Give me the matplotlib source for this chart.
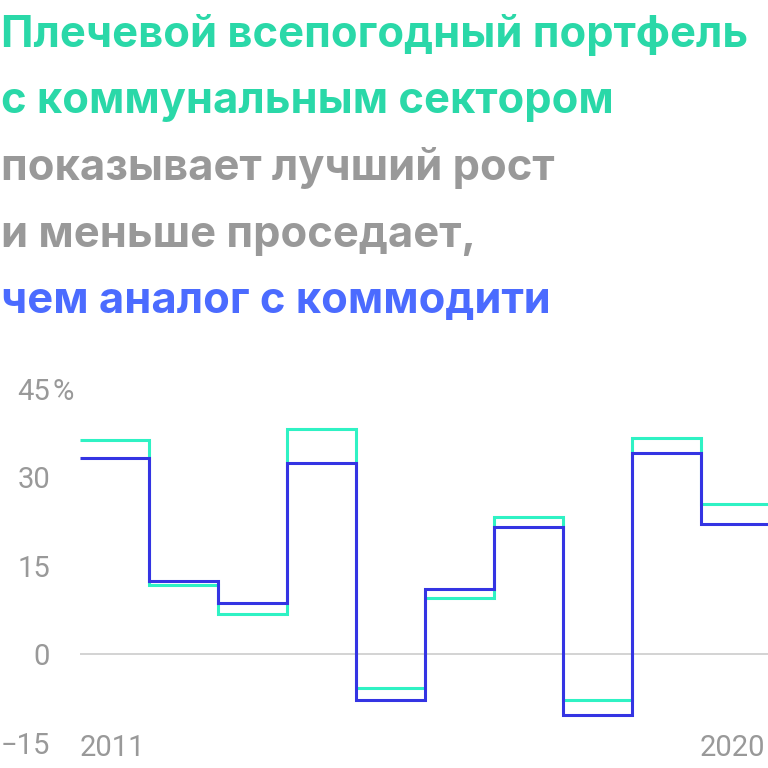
import matplotlib
matplotlib.use('Agg')
import matplotlib.pyplot as plt
import matplotlib.transforms as mtransforms

W = 768
DPI = 100

years = [2011, 2012, 2013, 2014, 2015, 2016, 2017, 2018, 2019, 2020]
# плечевой портфель с коммунальным сектором
utilities = [36.3, 11.7, 6.8, 38.1, -5.8, 9.5, 23.3, -7.7, 36.6, 25.5]
# аналог с коммодити
commodities = [33.3, 12.4, 8.6, 32.4, -7.8, 11.1, 21.6, -10.3, 34.1, 22.0]
y_ticks = [-15, 0, 15, 30, 45]

title_lines = [
    ('Плечевой всепогодный портфель', '#2ad8a8'),
    ('с коммунальным сектором', '#2ad8a8'),
    ('показывает лучший рост', '#999999'),
    ('и меньше проседает,', '#999999'),
    ('чем аналог с коммодити', '#4b6bff'),
]

fig = plt.figure(figsize=(W / DPI, W / DPI), dpi=DPI)

# заголовок
for i, (txt, col) in enumerate(title_lines):
    base = 47 + i * 66.5
    fig.text(1 / W, 1 - base / W, txt, color=col, fontsize=31.3,
             fontweight='bold', family='Inter', va='baseline', ha='left')

# график
y_top, y_bot = 388.5, 742.7
ax = fig.add_axes([80 / W, 1 - y_bot / W, 690 / W, (y_bot - y_top) / W])
edges = years + [years[-1] + 1]
ax.set_xlim(edges[0], edges[-1])
ax.set_ylim(-15, 45)
ax.axhline(0, color='#cccccc', lw=1.2, zorder=1)
ax.stairs(utilities, edges, baseline=None, color='#2ff2c4', lw=2.2, zorder=2)
ax.stairs(commodities, edges, baseline=None, color='#3434e3', lw=2.2, zorder=3)
ax.axis('off')

gray = '#999999'
trans = mtransforms.blended_transform_factory(fig.transFigure, ax.transData)
off = mtransforms.offset_copy(trans, fig=fig, x=0, y=-3, units='dots')
for t in y_ticks:
    ax.text(50 / W, t, '\u2212' + str(abs(t)) if t < 0 else str(t),
            transform=off, ha='right', va='center', color=gray,
            fontsize=21, family='Roboto', clip_on=False)
    if t == 45:
        ax.text(52 / W, t, '%', transform=off, ha='left', va='center',
                color=gray, fontsize=21, family='Roboto', clip_on=False)

ax.text(80 / W, 1 - 748 / W, str(years[0]), transform=fig.transFigure,
        ha='left', va='center', color=gray, fontsize=21, family='Roboto')
ax.text(765 / W, 1 - 748 / W, str(years[-1]), transform=fig.transFigure,
        ha='right', va='center', color=gray, fontsize=21, family='Roboto')

fig.savefig('out.png', dpi=DPI, facecolor='white')
